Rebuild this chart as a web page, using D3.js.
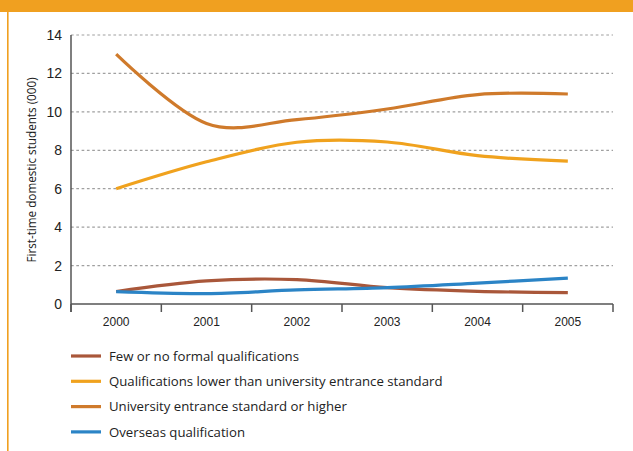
<!DOCTYPE html>
<html>
<head>
<meta charset="utf-8">
<script src="https://cdn.jsdelivr.net/npm/d3@7"></script>
<style>
  html, body { margin: 0; padding: 0; background: #fff; }
  svg { display: block; font-family: "Open Sans", sans-serif; }
</style>
</head>
<body>
<svg id="chart" width="633" height="451"></svg>
<script>
// Years on the x axis
const years = ["2000", "2001", "2002", "2003", "2004", "2005"];

// First-time domestic students (thousands) by highest school qualification
const fewOrNone      = [0.65, 1.20, 1.27, 0.85, 0.66, 0.59];
const belowEntrance  = [6.00, 7.40, 8.42, 8.43, 7.72, 7.44];
const entranceOrHigh = [13.00, 9.40, 9.60, 10.15, 10.90, 10.93];
const overseas       = [0.64, 0.54, 0.73, 0.85, 1.09, 1.35];

const seriesNames = [
  "Few or no formal qualifications",
  "Qualifications lower than university entrance standard",
  "University entrance standard or higher",
  "Overseas qualification"
];
const seriesColors = ["#a9573a", "#f0a21e", "#cf7a2b", "#2b84c6"];
const yTicks = [0, 2, 4, 6, 8, 10, 12, 14];

const series = [fewOrNone, belowEntrance, entranceOrHigh, overseas].map((values, i) => ({
  name: seriesNames[i], color: seriesColors[i], values
}));

const svg = d3.select("#chart");

// Page frame: orange header band and left rule
svg.append("rect").attr("x", 0).attr("y", 0).attr("width", 633).attr("height", 12).attr("fill", "#f0a020");
svg.append("rect").attr("x", 7).attr("y", 12).attr("width", 1.6).attr("height", 439).attr("fill", "#f0a020");

const plot = { left: 71, right: 613, top: 35, bottom: 304 };

const x = d3.scaleBand().domain(years).range([plot.left, plot.right]);
const y = d3.scaleLinear().domain([0, 14]).range([plot.bottom, plot.top]);

// Dashed gridlines
svg.append("g")
  .selectAll("line")
  .data(yTicks.filter(d => d > 0))
  .join("line")
  .attr("x1", plot.left).attr("x2", plot.right)
  .attr("y1", d => y(d)).attr("y2", d => y(d))
  .attr("stroke", "#a0a0a0").attr("stroke-width", 1.2)
  .attr("stroke-dasharray", "2.7,2.6");

// Y axis
const yAxis = svg.append("g")
  .attr("transform", `translate(${plot.left},0)`)
  .call(d3.axisLeft(y).tickValues(yTicks).tickSize(0).tickPadding(9));
yAxis.select(".domain").remove();
yAxis.selectAll("text").attr("font-size", 14).attr("fill", "#222");
svg.append("line")
  .attr("x1", plot.left).attr("x2", plot.left)
  .attr("y1", plot.top).attr("y2", plot.bottom + 8)
  .attr("stroke", "#555").attr("stroke-width", 1.5);

// X axis with ticks on the band edges
const xAxis = svg.append("g")
  .attr("transform", `translate(0,${plot.bottom})`)
  .call(d3.axisBottom(x).tickSize(0).tickPadding(13));
xAxis.select(".domain").remove();
xAxis.selectAll("text").attr("font-size", 12).attr("fill", "#222");
svg.append("line")
  .attr("x1", plot.left).attr("x2", plot.right)
  .attr("y1", plot.bottom).attr("y2", plot.bottom)
  .attr("stroke", "#555").attr("stroke-width", 1.5);
const edges = years.map(d => x(d)).concat([x(years[years.length - 1]) + x.bandwidth()]);
svg.append("g").selectAll("line").data(edges).join("line")
  .attr("x1", d => d).attr("x2", d => d)
  .attr("y1", plot.bottom).attr("y2", plot.bottom + 8)
  .attr("stroke", "#555").attr("stroke-width", 1.5);

// Y axis title
svg.append("text")
  .attr("transform", `translate(36,170) rotate(-90)`)
  .attr("text-anchor", "middle")
  .attr("font-size", 11.7)
  .attr("fill", "#222")
  .text("First-time domestic students (000)");

// Smoothed series lines
const line = d3.line()
  .x((d, i) => x(years[i]) + x.bandwidth() / 2)
  .y(d => y(d))
  .curve(d3.curveCardinal.tension(0));

svg.append("g").selectAll("path")
  .data(series)
  .join("path")
  .attr("d", d => line(d.values))
  .attr("fill", "none")
  .attr("stroke", d => d.color)
  .attr("stroke-width", 3.2);

// Legend
const legend = svg.append("g").attr("transform", "translate(71,356)");
const item = legend.selectAll("g").data(series).join("g")
  .attr("transform", (d, i) => `translate(0,${i * 25.3})`);
item.append("line")
  .attr("x1", 0).attr("x2", 30).attr("y1", 0).attr("y2", 0)
  .attr("stroke", d => d.color).attr("stroke-width", 3.2);
item.append("text")
  .attr("x", 38).attr("y", 0).attr("dy", "0.35em")
  .attr("font-size", 13.2).attr("fill", "#222")
  .text(d => d.name);
</script>
</body>
</html>
